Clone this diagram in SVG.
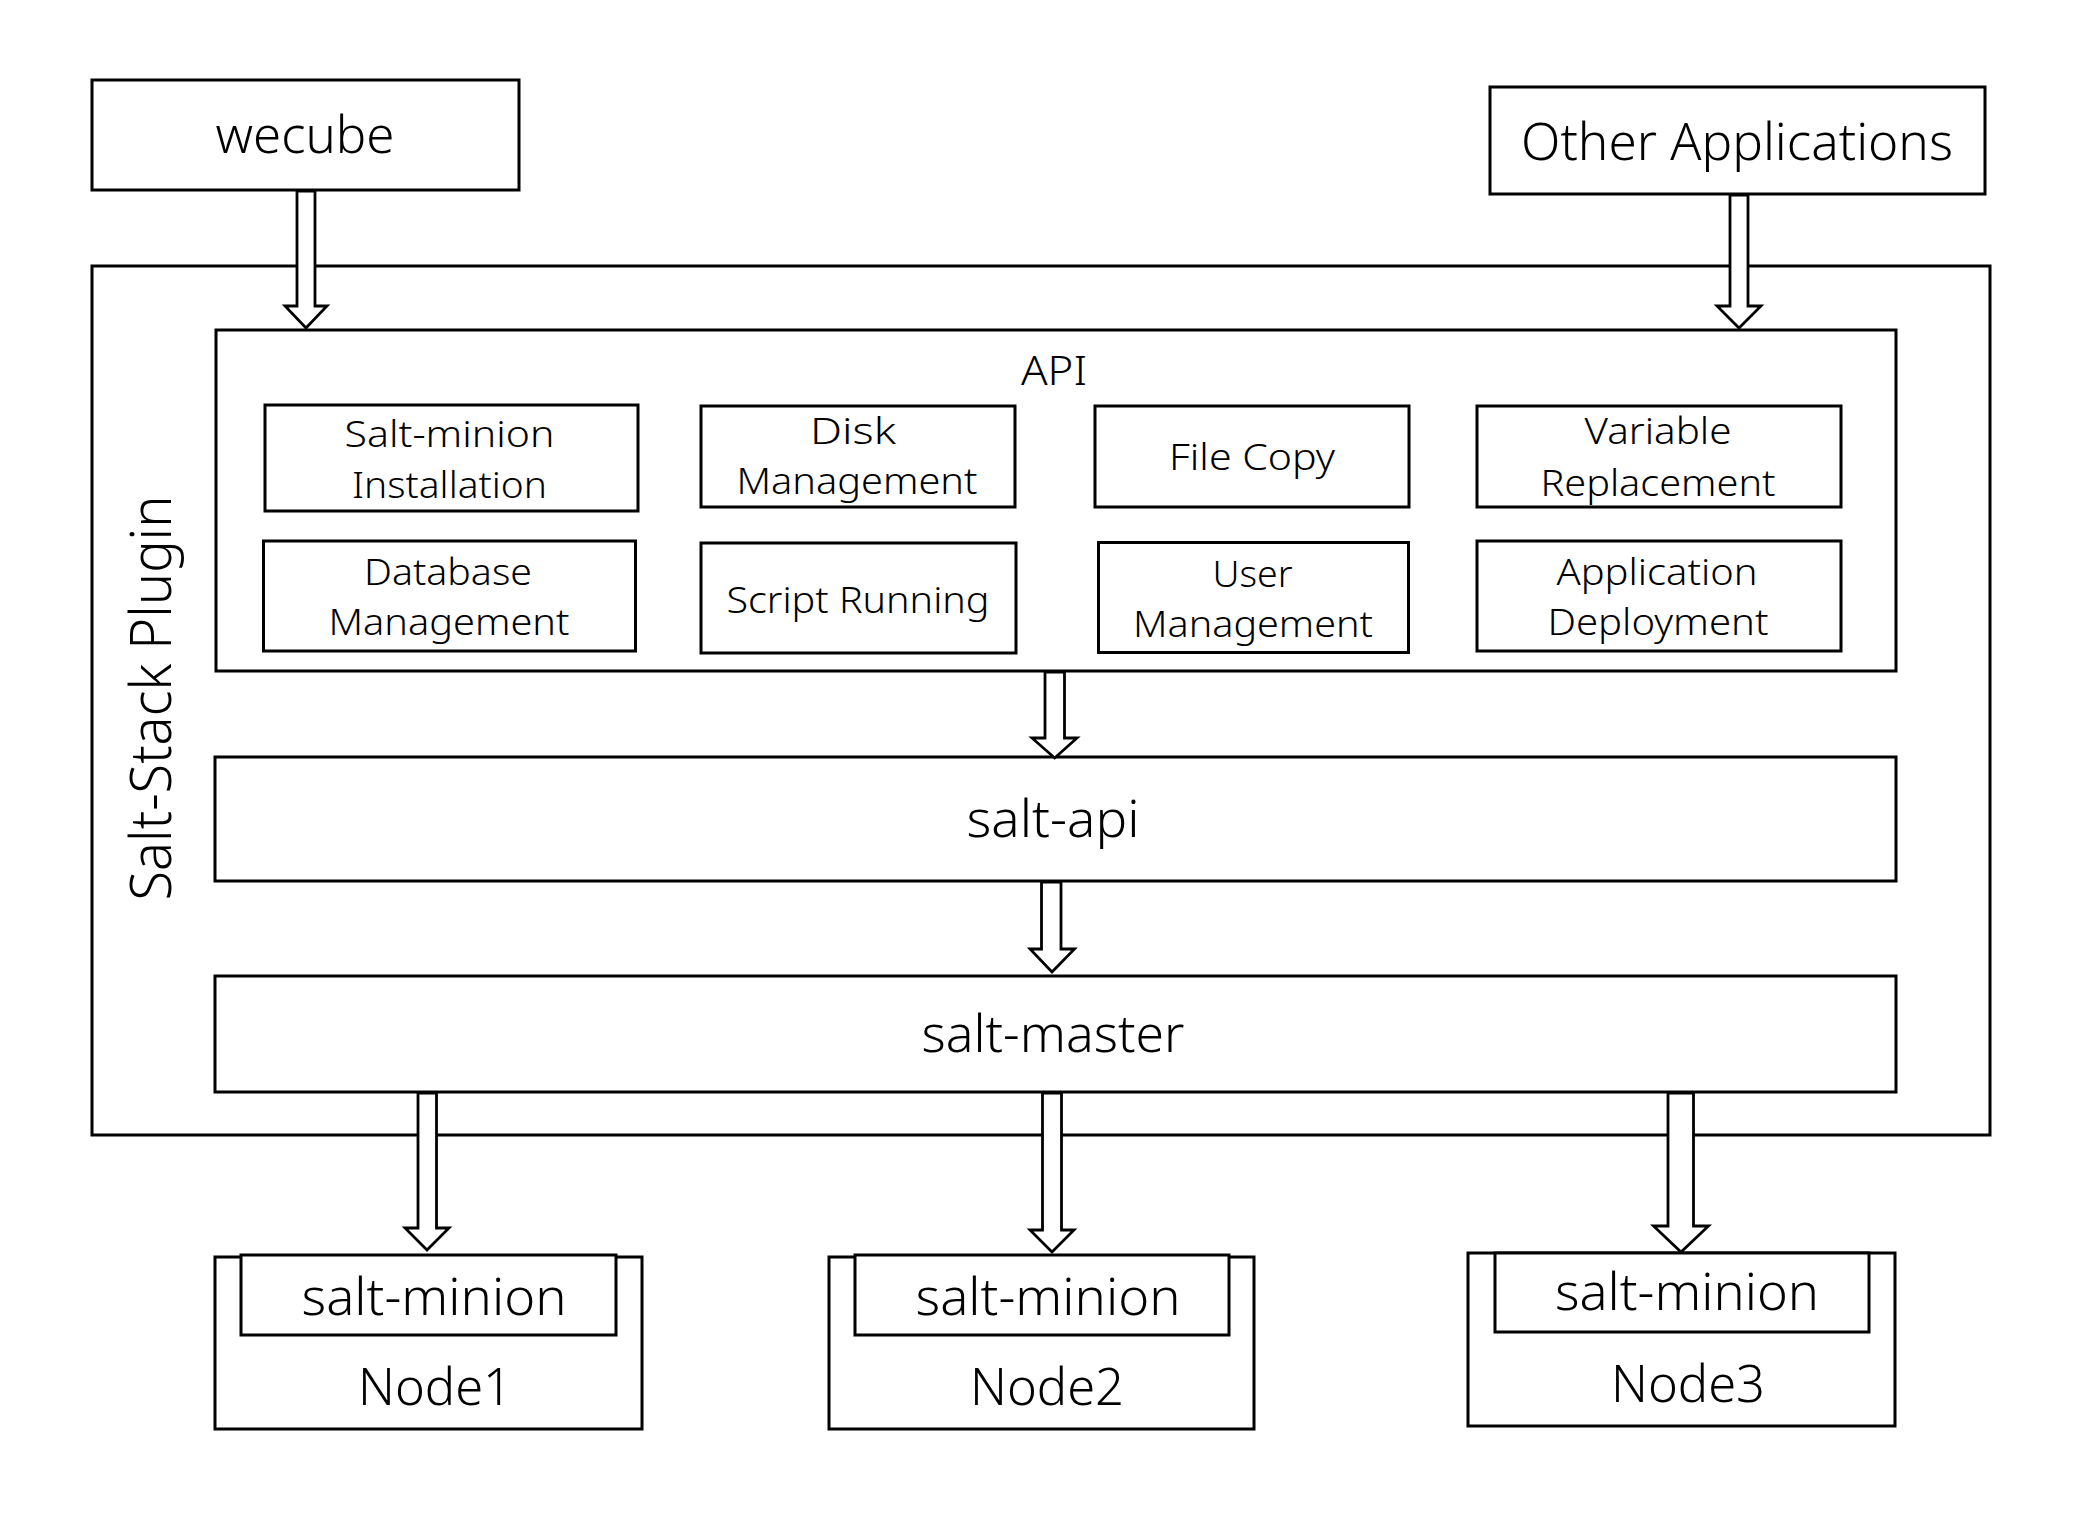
<svg xmlns="http://www.w3.org/2000/svg" width="2078" height="1518" viewBox="0 0 2078 1518">
<style>
  .box{fill:#fff;stroke:#000;stroke-width:3}
  .arr{fill:#fff;stroke:#000;stroke-width:2.8;stroke-linejoin:miter}
  text{font-family:"Noto Sans","Open Sans","DejaVu Sans",sans-serif;font-weight:300;fill:#000;text-anchor:middle}
  .big{font-size:51px}
  .sm{font-size:37px}
  .api{font-size:41px}
  .side{font-size:57px}
</style>
<rect width="2078" height="1518" fill="#fff"/>

<g id="plugin">
  <rect class="box" x="92" y="266" width="1898" height="869"/>
  <text class="side" transform="translate(171,698) rotate(-90)" textLength="405" lengthAdjust="spacingAndGlyphs">Salt-Stack Plugin</text>
</g>

<g id="wecube">
  <rect class="box" x="92" y="80" width="427" height="110"/>
  <text class="big" x="305" y="153" textLength="179" lengthAdjust="spacingAndGlyphs">wecube</text>
</g>

<g id="other-applications">
  <rect class="box" x="1490" y="87" width="495" height="107"/>
  <text class="big" x="1737" y="160" textLength="432" lengthAdjust="spacingAndGlyphs">Other Applications</text>
</g>

<g id="api">
  <rect class="box" x="216" y="330" width="1680" height="341"/>
  <text class="api" x="1054" y="385" textLength="66" lengthAdjust="spacingAndGlyphs">API</text>
</g>

<g id="salt-minion-installation">
  <rect class="box" x="265" y="405" width="373" height="106"/>
  <text class="sm" x="449.5" y="447" textLength="210" lengthAdjust="spacingAndGlyphs">Salt-minion</text>
  <text class="sm" x="449.5" y="498" textLength="195" lengthAdjust="spacingAndGlyphs">Installation</text>
</g>

<g id="disk-management">
  <rect class="box" x="701" y="406" width="314" height="101"/>
  <text class="sm" x="853" y="444" textLength="86" lengthAdjust="spacingAndGlyphs">Disk</text>
  <text class="sm" x="857" y="494" textLength="241" lengthAdjust="spacingAndGlyphs">Management</text>
</g>

<g id="file-copy">
  <rect class="box" x="1095" y="406" width="314" height="101"/>
  <text class="sm" x="1252" y="470" textLength="166" lengthAdjust="spacingAndGlyphs">File Copy</text>
</g>

<g id="variable-replacement">
  <rect class="box" x="1477" y="406" width="364" height="101"/>
  <text class="sm" x="1658" y="444" textLength="147" lengthAdjust="spacingAndGlyphs">Variable</text>
  <text class="sm" x="1658" y="496" textLength="235" lengthAdjust="spacingAndGlyphs">Replacement</text>
</g>

<g id="database-management">
  <rect class="box" x="263.5" y="541" width="372" height="110"/>
  <text class="sm" x="448" y="585" textLength="168" lengthAdjust="spacingAndGlyphs">Database</text>
  <text class="sm" x="449" y="635" textLength="241" lengthAdjust="spacingAndGlyphs">Management</text>
</g>

<g id="script-running">
  <rect class="box" x="701" y="543" width="315" height="110"/>
  <text class="sm" x="858" y="613" textLength="263" lengthAdjust="spacingAndGlyphs">Script Running</text>
</g>

<g id="user-management">
  <rect class="box" x="1098.5" y="542.5" width="310" height="110"/>
  <text class="sm" x="1252.5" y="587" textLength="80" lengthAdjust="spacingAndGlyphs">User</text>
  <text class="sm" x="1253" y="637" textLength="240" lengthAdjust="spacingAndGlyphs">Management</text>
</g>

<g id="application-deployment">
  <rect class="box" x="1477" y="541" width="364" height="110"/>
  <text class="sm" x="1657" y="585" textLength="201" lengthAdjust="spacingAndGlyphs">Application</text>
  <text class="sm" x="1658" y="635" textLength="221" lengthAdjust="spacingAndGlyphs">Deployment</text>
</g>

<g id="salt-api">
  <rect class="box" x="215" y="757" width="1681" height="124"/>
  <text class="big" x="1053" y="837" textLength="173" lengthAdjust="spacingAndGlyphs">salt-api</text>
</g>

<g id="salt-master">
  <rect class="box" x="215" y="976" width="1681" height="116"/>
  <text class="big" x="1053" y="1052" textLength="263" lengthAdjust="spacingAndGlyphs">salt-master</text>
</g>

<g id="node1">
  <rect class="box" x="215" y="1257" width="427" height="172"/>
  <rect class="box" x="241" y="1255" width="375" height="80"/>
  <text class="big" x="434" y="1315" textLength="265" lengthAdjust="spacingAndGlyphs">salt-minion</text>
  <text class="big" x="435" y="1405" textLength="154" lengthAdjust="spacingAndGlyphs">Node1</text>
</g>

<g id="node2">
  <rect class="box" x="829" y="1257" width="425" height="172"/>
  <rect class="box" x="855" y="1255" width="374" height="80"/>
  <text class="big" x="1048" y="1315" textLength="265" lengthAdjust="spacingAndGlyphs">salt-minion</text>
  <text class="big" x="1047" y="1405" textLength="154" lengthAdjust="spacingAndGlyphs">Node2</text>
</g>

<g id="node3">
  <rect class="box" x="1468" y="1253" width="427" height="173"/>
  <rect class="box" x="1495" y="1253" width="374" height="79"/>
  <text class="big" x="1687" y="1310" textLength="264" lengthAdjust="spacingAndGlyphs">salt-minion</text>
  <text class="big" x="1688" y="1402" textLength="154" lengthAdjust="spacingAndGlyphs">Node3</text>
</g>

<g id="connectors">
  <polygon class="arr" points="297,191 315,191 315,306 327,306 306,328 285,306 297,306"/>
  <polygon class="arr" points="1730,195 1748,195 1748,306 1761,306 1739,328 1717,306 1730,306"/>
  <polygon class="arr" points="1045,672 1064.5,672 1064.5,738 1077,738 1054.7,758 1032,738 1045,738"/>
  <polygon class="arr" points="1041.5,882 1061,882 1061,949 1074.5,949 1052,972 1030,949 1041.5,949"/>
  <polygon class="arr" points="418,1093 436.5,1093 436.5,1228 449,1228 427,1250 405,1228 418,1228"/>
  <polygon class="arr" points="1042.5,1093 1061.5,1093 1061.5,1230 1074,1230 1052,1252 1030,1230 1042.5,1230"/>
  <polygon class="arr" points="1668,1093 1693.5,1093 1693.5,1226 1708.5,1226 1681,1252 1653.5,1226 1668,1226"/>
</g>
</svg>
